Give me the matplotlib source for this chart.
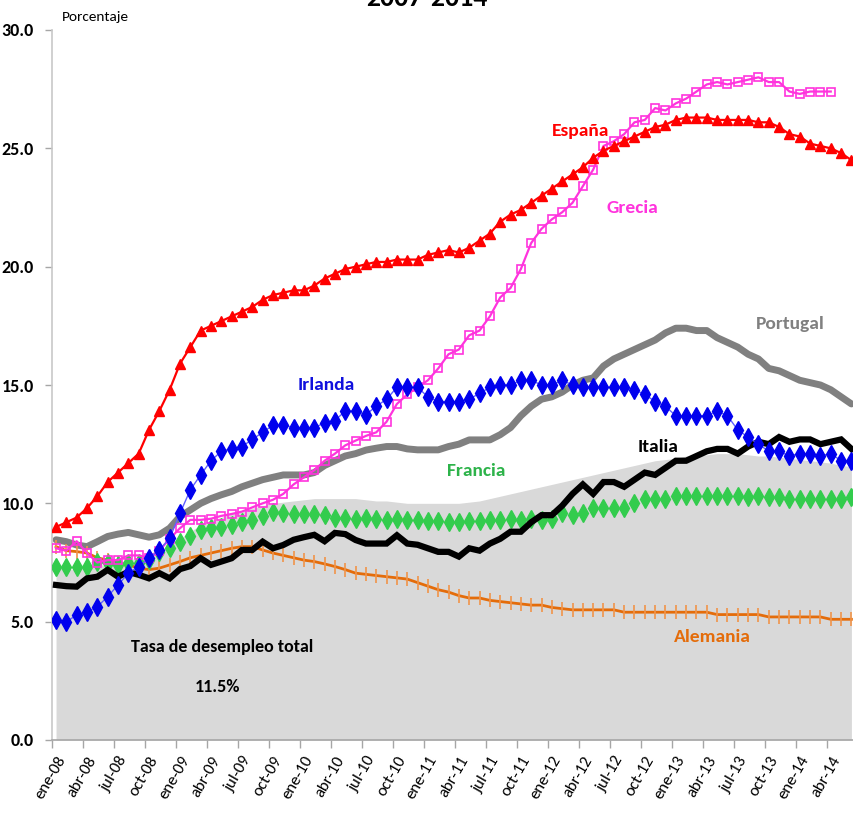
import matplotlib
matplotlib.use("Agg")
import matplotlib.pyplot as plt
import matplotlib.font_manager as fm
import numpy as np

# ---------------- data ----------------
tick_labels = ["ene-08", "abr-08", "jul-08", "oct-08", "ene-09", "abr-09", "jul-09", "oct-09",
               "ene-10", "abr-10", "jul-10", "oct-10", "ene-11", "abr-11", "jul-11", "oct-11",
               "ene-12", "abr-12", "jul-12", "oct-12", "ene-13", "abr-13", "jul-13", "oct-13",
               "ene-14", "abr-14"]

espana = [9.0, 9.2, 9.4, 9.8, 10.3, 10.9, 11.3, 11.7, 12.1, 13.1,
          13.9, 14.8, 15.9, 16.6, 17.3, 17.5, 17.7, 17.9, 18.1, 18.3,
          18.6, 18.8, 18.9, 19.0, 19.0, 19.2, 19.5, 19.7, 19.9, 20.0,
          20.1, 20.2, 20.2, 20.3, 20.3, 20.3, 20.5, 20.6, 20.7, 20.6,
          20.8, 21.1, 21.4, 21.9, 22.2, 22.4, 22.7, 23.0, 23.3, 23.6,
          23.9, 24.2, 24.6, 24.9, 25.1, 25.3, 25.5, 25.7, 25.9, 26.0,
          26.2, 26.3, 26.3, 26.3, 26.2, 26.2, 26.2, 26.2, 26.1, 26.1,
          25.9, 25.6, 25.5, 25.2, 25.1, 25.0, 24.8, 24.5]

grecia = [8.1, 8.0, 8.4, 7.9, 7.5, 7.6, 7.6, 7.8, 7.8, 7.7,
          8.0, 8.5, 8.95, 9.3, 9.3, 9.35, 9.47, 9.55, 9.65, 9.83,
          10.0, 10.15, 10.4, 10.8, 11.1, 11.4, 11.8, 12.1, 12.45, 12.65,
          12.85, 13.0, 13.45, 14.2, 14.6, 14.9, 15.2, 15.7, 16.3, 16.5,
          17.1, 17.3, 17.9, 18.7, 19.1, 19.9, 21.0, 21.6, 22.0, 22.3,
          22.7, 23.4, 24.1, 25.1, 25.3, 25.6, 26.1, 26.2, 26.7, 26.6,
          26.9, 27.1, 27.4, 27.7, 27.8, 27.7, 27.8, 27.9, 28.0, 27.8,
          27.8, 27.4, 27.3, 27.4, 27.4, 27.4, np.nan, np.nan]

irlanda = [5.07, 5.0, 5.28, 5.42, 5.63, 6.06, 6.55, 7.05, 7.33, 7.68,
           8.03, 8.52, 9.58, 10.57, 11.2, 11.8, 12.2, 12.3, 12.4, 12.7,
           13.0, 13.3, 13.3, 13.2, 13.2, 13.2, 13.4, 13.5, 13.9, 13.9,
           13.75, 14.1, 14.4, 14.9, 14.9, 14.9, 14.5, 14.3, 14.3, 14.3,
           14.4, 14.65, 14.9, 15.0, 15.0, 15.2, 15.2, 15.0, 15.0, 15.2,
           15.0, 14.9, 14.9, 14.9, 14.9, 14.9, 14.8, 14.6, 14.3, 14.1,
           13.7, 13.7, 13.7, 13.7, 13.9, 13.7, 13.1, 12.8, 12.5, 12.2,
           12.2, 12.0, 12.1, 12.1, 12.0, 12.1, 11.8, 11.8]

portugal = [8.46, 8.38, 8.24, 8.17, 8.38, 8.6, 8.7, 8.77, 8.67, 8.57,
            8.67, 8.95, 9.44, 9.72, 10.0, 10.2, 10.36, 10.5, 10.7, 10.85,
            11.0, 11.1, 11.2, 11.2, 11.2, 11.3, 11.6, 11.8, 12.0, 12.1,
            12.25, 12.33, 12.4, 12.4, 12.3, 12.26, 12.26, 12.26, 12.4, 12.5,
            12.68, 12.68, 12.68, 12.9, 13.2, 13.7, 14.1, 14.4, 14.5, 14.7,
            15.0, 15.2, 15.3, 15.8, 16.1, 16.3, 16.5, 16.7, 16.9, 17.2,
            17.4, 17.4, 17.3, 17.3, 17.0, 16.8, 16.6, 16.3, 16.1, 15.7,
            15.6, 15.4, 15.2, 15.1, 15.0, 14.8, 14.5, 14.2]

italia = [6.55, 6.5, 6.48, 6.83, 6.9, 7.19, 6.9, 7.1, 6.98, 6.83,
          7.05, 6.83, 7.22, 7.35, 7.68, 7.4, 7.54, 7.68, 8.03, 8.03,
          8.38, 8.1, 8.24, 8.46, 8.57, 8.67, 8.4, 8.75, 8.7, 8.45,
          8.3, 8.3, 8.3, 8.65, 8.3, 8.25, 8.1, 7.95, 7.95, 7.75,
          8.1, 8.0, 8.3, 8.5, 8.8, 8.8, 9.2, 9.5, 9.5, 9.9,
          10.4, 10.8, 10.4, 10.9, 10.9, 10.7, 11.0, 11.3, 11.2, 11.5,
          11.8, 11.8, 12.0, 12.2, 12.3, 12.3, 12.1, 12.4, 12.6, 12.5,
          12.8, 12.6, 12.7, 12.7, 12.5, 12.6, 12.7, 12.3]

francia = [7.33, 7.3, 7.3, 7.33, 7.54, 7.5, 7.4, 7.47, 7.47, 7.6,
           7.96, 8.1, 8.38, 8.6, 8.88, 8.95, 9.0, 9.1, 9.23, 9.3,
           9.47, 9.65, 9.6, 9.55, 9.55, 9.55, 9.5, 9.4, 9.4, 9.35,
           9.4, 9.35, 9.3, 9.35, 9.3, 9.3, 9.25, 9.25, 9.2, 9.2,
           9.25, 9.25, 9.3, 9.3, 9.35, 9.3, 9.35, 9.3, 9.35, 9.6,
           9.5, 9.6, 9.8, 9.8, 9.8, 9.8, 10.0, 10.2, 10.2, 10.2,
           10.3, 10.3, 10.3, 10.3, 10.3, 10.3, 10.3, 10.25, 10.3, 10.25,
           10.25, 10.2, 10.2, 10.2, 10.2, 10.2, 10.2, 10.25]

alemania = [8.17, 8.0, 7.96, 7.9, 7.7, 7.6, 7.47, 7.4, 7.26, 7.2,
            7.26, 7.4, 7.54, 7.7, 7.8, 7.9, 8.0, 8.1, 8.17, 8.17,
            8.03, 7.9, 7.8, 7.7, 7.6, 7.54, 7.44, 7.33, 7.2, 7.05,
            7.0, 6.95, 6.9, 6.85, 6.8, 6.65, 6.5, 6.35, 6.25, 6.1,
            6.0, 6.0, 5.9, 5.85, 5.8, 5.75, 5.7, 5.7, 5.6, 5.55,
            5.5, 5.5, 5.5, 5.5, 5.5, 5.4, 5.4, 5.4, 5.4, 5.4,
            5.4, 5.4, 5.4, 5.4, 5.3, 5.3, 5.3, 5.3, 5.3, 5.2,
            5.2, 5.2, 5.2, 5.2, 5.2, 5.1, 5.1, 5.1]

zona_euro = [7.3, 7.2, 7.2, 7.3, 7.4, 7.4, 7.5, 7.6, 7.7, 7.8,
             8.0, 8.2, 8.5, 8.8, 9.1, 9.3, 9.4, 9.6, 9.7, 9.8,
             9.9, 10.0, 10.05, 10.1, 10.15, 10.2, 10.2, 10.2, 10.2, 10.2,
             10.15, 10.1, 10.1, 10.05, 10.0, 10.0, 10.0, 10.0, 10.0, 10.0,
             10.05, 10.1, 10.2, 10.3, 10.4, 10.5, 10.6, 10.7, 10.8, 10.9,
             11.0, 11.1, 11.2, 11.3, 11.4, 11.5, 11.6, 11.7, 11.8, 11.85,
             11.9, 12.0, 12.0, 12.05, 12.1, 12.1, 12.1, 12.05, 12.0, 12.0,
             11.95, 11.9, 11.85, 11.8, 11.75, 11.7, 11.6, 11.55]

# ---------------- fonts ----------------
names = {f.name for f in fm.fontManager.ttflist}
FONT = "Lato"
for cand in ["Liberation Sans Narrow", "Carlito", "Lato"]:
    if cand in names:
        FONT = cand
        break
plt.rcParams["font.family"] = [FONT, "DejaVu Sans"]

# ---------------- figure ----------------
W, H = 854, 815
fig = plt.figure(figsize=(W / 100, H / 100), dpi=100)
ax_left, ax_right = 52, 862
ax_bottom, ax_top = 740, 30
ax = fig.add_axes([ax_left / W, (H - ax_bottom) / H,
                   (ax_right - ax_left) / W, (ax_bottom - ax_top) / H])

x = np.arange(len(espana))

ax.fill_between(x, 0, zona_euro, color="#D9D9D9", lw=0, zorder=1)

ax.plot(x, portugal, color="#808080", lw=5, solid_capstyle="round", zorder=2)
ax.plot(x, alemania, color="#E46C0A", lw=2, marker="|", ms=10, mew=1.2,
        mec="#F0944A", zorder=3)
ax.plot(x, francia, color="#33CC4D", lw=1, ls="none", marker="d", ms=9,
        mec="#33CC4D", mfc="#33CC4D", zorder=4)
ax.plot(x, italia, color="black", lw=4.5, solid_joinstyle="miter", zorder=5)
ax.plot(x, grecia, color="#FF33DD", lw=1.6, marker="s", ms=6, mew=1.2,
        mfc="none", mec="#FF33DD", zorder=6)
ax.plot(x, irlanda, color="#6060FF", lw=1, marker="d", ms=9,
        mfc="#0000EE", mec="#0000EE", zorder=7)
ax.plot(x, espana, color="#FF0000", lw=1.6, marker="^", ms=7.5,
        mfc="#FF0000", mec="#FF0000", zorder=8)

# axes
ax.set_ylim(0, 30)
ax.set_xlim(-0.39, (ax_right - 56) / 10.33)
ax.set_yticks(np.arange(0, 30.1, 5))
ax.set_yticklabels([f"{v:.1f}" for v in np.arange(0, 30.1, 5)],
                   fontsize=13, fontweight="bold")
label_pos = np.arange(0, len(tick_labels) * 3, 3)
ax.set_xticks(label_pos)
ax.set_xticklabels(tick_labels, rotation=60, ha="right",
                   rotation_mode="anchor", fontsize=12)
ax.set_xticks(label_pos - 0.35, minor=True)
ax.tick_params(axis="x", which="major", length=0, pad=10)
ax.tick_params(axis="x", which="minor", length=6, color="#A6A6A6", width=1)
ax.tick_params(axis="y", length=5, color="#A6A6A6", width=1, pad=8)
for s in ["top", "right"]:
    ax.spines[s].set_visible(False)
ax.spines["left"].set_color("#C8C8C8")
ax.spines["left"].set_linewidth(1.2)
ax.spines["bottom"].set_color("#A6A6A6")
ax.spines["bottom"].set_linewidth(1.2)
ax.set_facecolor("white")

# series labels
def lab(px, py, s, c, size=14):
    ax.text((px - 56) / 10.33, (740 - py) / 23.67, s, color=c, fontsize=size,
            fontweight="bold", ha="center", va="center", zorder=10)

lab(581, 131, "España", "#FF0000")
lab(632, 208, "Grecia", "#FF33DD")
lab(790, 324, "Portugal", "#808080")
lab(326, 385, "Irlanda", "#1010DD")
lab(658, 447, "Italia", "black")
lab(476, 471, "Francia", "#2DB34A")
lab(712, 637, "Alemania", "#E46C0A")
lab(222, 647, "Tasa de desempleo total", "black", size=13)
lab(217, 687, "11.5%", "black", size=13)

fig.text(62 / W, 1 - 17 / H, "Porcentaje", fontsize=11, ha="left", va="center")
fig.text(427 / W, 1 - 6 / H, "2007-2014", fontsize=20, fontweight="bold",
         ha="center", va="baseline")

fig.savefig("out.png", dpi=100)
